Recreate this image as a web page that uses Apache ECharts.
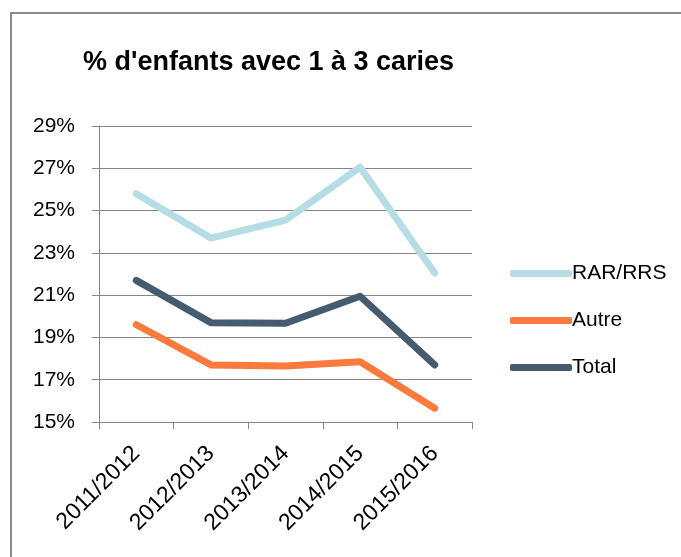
<!DOCTYPE html>
<html>
<head>
<meta charset="utf-8">
<script src="https://cdn.jsdelivr.net/npm/echarts@6/dist/echarts.min.js"></script>
<style>
    html, body { margin: 0; padding: 0; background: #fff; }
    #main { position: absolute; left: 0; top: 0; width: 681px; height: 557px; }
    #frame {
        position: absolute; left: 10px; top: 12px; width: 700px; height: 600px;
        border-left: 2px solid #8a8a8a; border-top: 2px solid #8a8a8a;
        pointer-events: none;
    }
</style>
</head>
<body>
<div id="main"></div>
<div id="frame"></div>
<script>
// années scolaires
var years = ['2011/2012', '2012/2013', '2013/2014', '2014/2015', '2015/2016'];
// % d'enfants avec 1 à 3 caries
var rarRrs = [25.8, 23.7, 24.55, 27.05, 22.05];
var autre = [19.6, 17.7, 17.65, 17.85, 15.65];
var total = [21.7, 19.7, 19.67, 20.95, 17.7];

var colors = ['#B6DCE6', '#FB7A3E', '#475B70'];
var FONT = 'Liberation Sans';

var chartDom = document.getElementById('main');
var myChart = echarts.init(chartDom);

var lineSeries = function (name, data, i) {
    return {
        name: name,
        type: 'line',
        data: data,
        symbol: 'none',
        lineStyle: { width: 7, color: colors[i], cap: 'round', join: 'round' },
        itemStyle: { color: colors[i] },
        emphasis: { disabled: true }
    };
};

var option = {
    animation: false,
    color: colors,
    title: {
        text: "% d'enfants avec 1 à 3 caries",
        left: 78,
        top: 44,
        textStyle: { fontFamily: FONT, fontWeight: 'bold', fontSize: 27, color: '#000' }
    },
    legend: {
        orient: 'vertical',
        left: 505,
        top: 258,
        itemWidth: 62,
        itemHeight: 7,
        itemGap: 26,
        icon: 'roundRect',
        data: ['RAR/RRS', 'Autre', 'Total'],
        textStyle: { fontFamily: FONT, fontSize: 21, color: '#000', padding: [0, 0, 0, -5] }
    },
    grid: {
        left: 99,
        right: 209,
        top: 126,
        bottom: 135,
        containLabel: false,
        outerBoundsMode: 'none'
    },
    xAxis: {
        type: 'category',
        data: years,
        boundaryGap: true,
        axisLine: { lineStyle: { color: '#868686', width: 1 } },
        axisTick: { show: true, length: 7, lineStyle: { color: '#868686' } },
        axisLabel: {
            rotate: 45,
            margin: 28,
            fontFamily: FONT,
            fontSize: 23,
            color: '#000',
            interval: 0
        }
    },
    yAxis: {
        type: 'value',
        min: 15,
        max: 29,
        interval: 2,
        axisLine: { show: true, lineStyle: { color: '#868686', width: 1 } },
        axisTick: { show: true, length: 7, lineStyle: { color: '#868686' } },
        splitLine: { lineStyle: { color: '#868686', width: 1 } },
        axisLabel: {
            formatter: '{value}%',
            margin: 24,
            fontFamily: FONT,
            fontSize: 21,
            color: '#000'
        }
    },
    series: [
        lineSeries('RAR/RRS', rarRrs, 0),
        lineSeries('Autre', autre, 1),
        lineSeries('Total', total, 2)
    ]
};

option && myChart.setOption(option);
</script>
</body>
</html>
